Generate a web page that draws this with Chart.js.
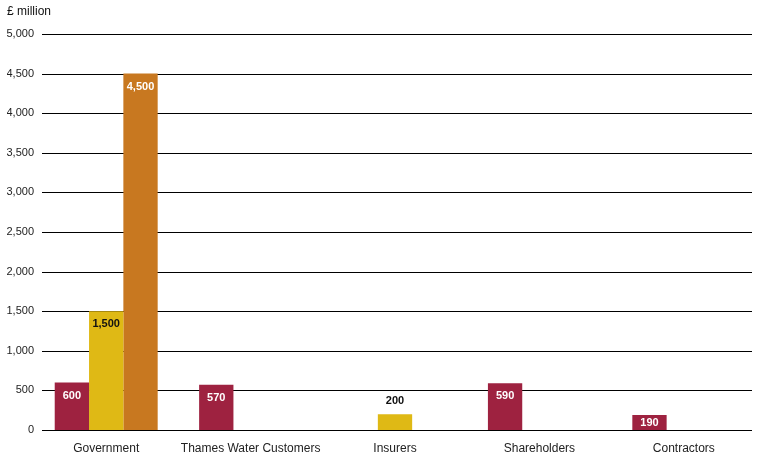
<!DOCTYPE html>
<html>
<head>
<meta charset="utf-8">
<script src="https://cdn.jsdelivr.net/npm/chart.js@4"></script>
<style>
  body { margin: 0; background: #fff; }
  #wrap { position: relative; width: 757px; height: 456px; }
  #unit { position: absolute; left: 7px; top: 4px; font: 12px "Liberation Sans", Arial, sans-serif; color: #111; }
</style>
</head>
<body>
<div id="wrap">
  <div id="unit">£ million</div>
  <canvas id="chart" width="757" height="456"></canvas>
</div>
<script>
const categories = ['Government', 'Thames Water Customers', 'Insurers', 'Shareholders', 'Contractors'];
const seriesNames = ['Series 1', 'Series 2', 'Series 3'];
const series1 = [600, 570, null, 590, 190];
const series2 = [1500, null, 200, null, null];
const series3 = [4500, null, null, null, null];
const seriesColors = ['#9E2240', '#DFB915', '#C87820'];
const labelColors = ['#ffffff', '#111111', '#ffffff'];
const yTicks = [0, 500, 1000, 1500, 2000, 2500, 3000, 3500, 4000, 4500, 5000];

const fontFamily = '"Liberation Sans", Arial, sans-serif';

// horizontal rules, drawn under the bars
const gridPlugin = {
    id: 'rules',
    beforeDatasetsDraw(chart) {
        const ctx = chart.ctx;
        const y = chart.scales.y;
        ctx.save();
        ctx.strokeStyle = '#000';
        ctx.lineWidth = 1;
        yTicks.forEach(function (v) {
            const py = Math.round(y.getPixelForValue(v)) + 0.5;
            ctx.beginPath();
            ctx.moveTo(42, py);
            ctx.lineTo(752, py);
            ctx.stroke();
        });
        ctx.restore();
    }
};

// value labels on the bars
const labelPlugin = {
    id: 'barLabels',
    afterDatasetsDraw(chart) {
        const ctx = chart.ctx;
        ctx.save();
        ctx.font = 'bold 11px ' + fontFamily;
        ctx.textAlign = 'center';
        ctx.textBaseline = 'middle';
        chart.data.datasets.forEach(function (ds, i) {
            const meta = chart.getDatasetMeta(i);
            meta.data.forEach(function (bar, j) {
                const v = ds.data[j];
                if (v === null || v === undefined) return;
                const h = bar.base - bar.y;
                let ly;
                if (h > 25) {
                    ly = bar.y + 13;
                } else if (labelColors[i] === '#111111') {
                    ly = bar.y - 13;
                } else {
                    ly = (bar.y + bar.base) / 2;
                }
                ctx.fillStyle = labelColors[i];
                ctx.fillText(v.toLocaleString('en-US'), bar.x, ly);
            });
        });
        ctx.restore();
    }
};

new Chart(document.getElementById('chart').getContext('2d'), {
    type: 'bar',
    data: {
        labels: categories,
        datasets: [
            { label: seriesNames[0], data: series1, backgroundColor: seriesColors[0] },
            { label: seriesNames[1], data: series2, backgroundColor: seriesColors[1] },
            { label: seriesNames[2], data: series3, backgroundColor: seriesColors[2] }
        ]
    },
    options: {
        responsive: false,
        animation: false,
        layout: { padding: { top: 34, left: 7, right: 1, bottom: 0 } },
        datasets: {
            bar: { barPercentage: 1, categoryPercentage: 0.713, skipNull: false }
        },
        plugins: {
            legend: { display: false },
            tooltip: { enabled: false }
        },
        scales: {
            x: {
                grid: { display: false },
                border: { display: false },
                ticks: {
                    padding: 3,
                    color: '#222',
                    font: { family: fontFamily, size: 12 },
                    maxRotation: 0
                },
                afterFit(scale) { scale.height = 26; }
            },
            y: {
                min: 0,
                max: 5000,
                afterBuildTicks(scale) { scale.ticks = yTicks.map(function (v) { return { value: v }; }); },
                grid: { display: false, drawTicks: false },
                border: { display: false },
                ticks: {
                    padding: 0,
                    color: '#222',
                    font: { family: fontFamily, size: 11 },
                    callback: function (v) { return Number(v).toLocaleString('en-US'); }
                },
                afterFit(scale) { scale.width = 27; }
            }
        }
    },
    plugins: [gridPlugin, labelPlugin]
});
</script>
</body>
</html>
